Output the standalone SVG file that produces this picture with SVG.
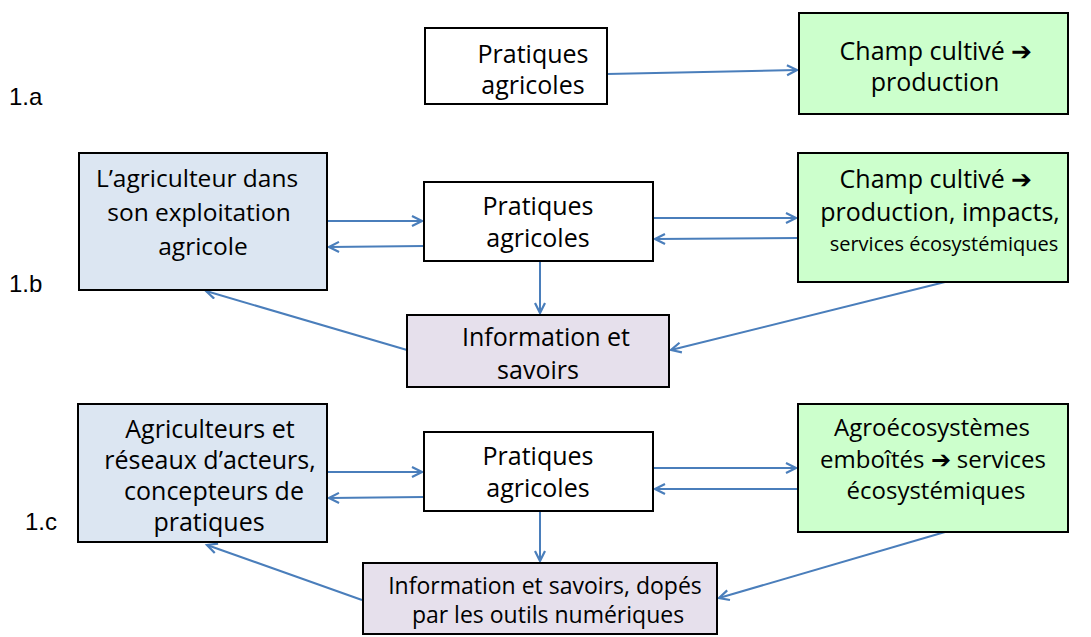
<svg xmlns="http://www.w3.org/2000/svg" width="1091" height="637" viewBox="0 0 1091 637">
<defs>
<marker id="ah" markerUnits="userSpaceOnUse" markerWidth="14" markerHeight="14" refX="11" refY="6" orient="auto">
<path d="M1,1 L11,6 L1,11" fill="none" stroke="#4a7ebb" stroke-width="2.2"/>
</marker>
</defs>
<style>
.box{stroke:#000;stroke-width:2}
.w{fill:#fff}.g{fill:#ccffcc}.b{fill:#dce6f2}.p{fill:#e6e0ec}
.t{font-family:"Open Sans","Liberation Sans",sans-serif;fill:#000;text-anchor:middle}
.lbl{font-family:"Liberation Sans",Arial,sans-serif;font-size:24px;fill:#000}
.c{fill:none;stroke:#4a7ebb;stroke-width:2;marker-end:url(#ah)}
</style>
<rect width="1091" height="637" fill="#fff"/>
<text class="lbl" x="9" y="105">1.a</text>
<text class="lbl" x="9" y="292">1.b</text>
<text class="lbl" x="25" y="530">1.c</text>

<g id="connectors">
<line class="c" x1="607" y1="74" x2="797" y2="70"/>
<line class="c" x1="327" y1="221" x2="422" y2="221"/>
<line class="c" x1="424" y1="246" x2="329" y2="247"/>
<line class="c" x1="653" y1="218" x2="796" y2="218"/>
<line class="c" x1="798" y1="238" x2="655" y2="239"/>
<line class="c" x1="540" y1="261" x2="540" y2="313"/>
<line class="c" x1="407" y1="350" x2="206" y2="291"/>
<line class="c" x1="945" y1="282" x2="671" y2="350"/>
<line class="c" x1="327" y1="472" x2="422" y2="472"/>
<line class="c" x1="424" y1="497" x2="329" y2="498"/>
<line class="c" x1="653" y1="468" x2="796" y2="468"/>
<line class="c" x1="798" y1="489" x2="655" y2="489"/>
<line class="c" x1="540" y1="511" x2="540" y2="561"/>
<line class="c" x1="362" y1="600" x2="207" y2="545"/>
<line class="c" x1="945" y1="532" x2="719" y2="598"/>
</g>

<g id="n1a-pratiques">
<rect class="box w" x="425" y="28" width="182" height="76"/>
<text class="t" font-size="25" x="533" y="63">Pratiques </text>
<text class="t" font-size="25" x="533" y="94">agricoles</text>
</g>
<g id="n1a-champ">
<rect class="box g" x="799" y="13" width="269" height="101"/>
<text class="t" font-size="25" x="936" y="60">Champ cultivé ➔ </text>
<text class="t" font-size="25" x="935" y="91">production</text>
</g>

<g id="n1b-agriculteur">
<rect class="box b" x="79" y="153" width="248" height="137"/>
<text class="t" font-size="24.5" x="197" y="187">L’agriculteur dans </text>
<text class="t" font-size="24.5" x="199" y="221">son exploitation </text>
<text class="t" font-size="24.5" x="203" y="255">agricole</text>
</g>
<g id="n1b-pratiques">
<rect class="box w" x="424" y="182" width="229" height="79"/>
<text class="t" font-size="25" x="538" y="215">Pratiques </text>
<text class="t" font-size="25" x="538" y="247">agricoles</text>
</g>
<g id="n1b-champ">
<rect class="box g" x="798" y="153" width="270" height="129"/>
<text class="t" font-size="25" x="936" y="188">Champ cultivé ➔ </text>
<text class="t" font-size="25" x="940" y="221">production, impacts, </text>
<text class="t" font-size="20" x="944" y="251">services écosystémiques</text>
</g>
<g id="n1b-info">
<rect class="box p" x="407" y="315" width="262" height="72"/>
<text class="t" font-size="25" x="546" y="346">Information et  </text>
<text class="t" font-size="25" x="538" y="379">savoirs</text>
</g>

<g id="n1c-agriculteurs">
<rect class="box b" x="78" y="404" width="249" height="138"/>
<text class="t" font-size="25" x="210" y="438">Agriculteurs et </text>
<text class="t" font-size="25" x="210" y="469">réseaux d’acteurs, </text>
<text class="t" font-size="25" x="214" y="500">concepteurs de </text>
<text class="t" font-size="25" x="209" y="531">pratiques</text>
</g>
<g id="n1c-pratiques">
<rect class="box w" x="424" y="432" width="229" height="79"/>
<text class="t" font-size="25" x="538" y="465">Pratiques </text>
<text class="t" font-size="25" x="538" y="497">agricoles</text>
</g>
<g id="n1c-agro">
<rect class="box g" x="798" y="404" width="270" height="128"/>
<text class="t" font-size="24" x="932" y="436">Agroécosystèmes  </text>
<text class="t" font-size="24" x="933" y="468">emboîtés ➔ services </text>
<text class="t" font-size="24" x="936" y="499">écosystémiques</text>
</g>
<g id="n1c-info">
<rect class="box p" x="363" y="563" width="354" height="71"/>
<text class="t" font-size="23" x="545" y="594">Information et savoirs, dopés </text>
<text class="t" font-size="23" x="548" y="623">par les outils numériques </text>
</g>
</svg>
